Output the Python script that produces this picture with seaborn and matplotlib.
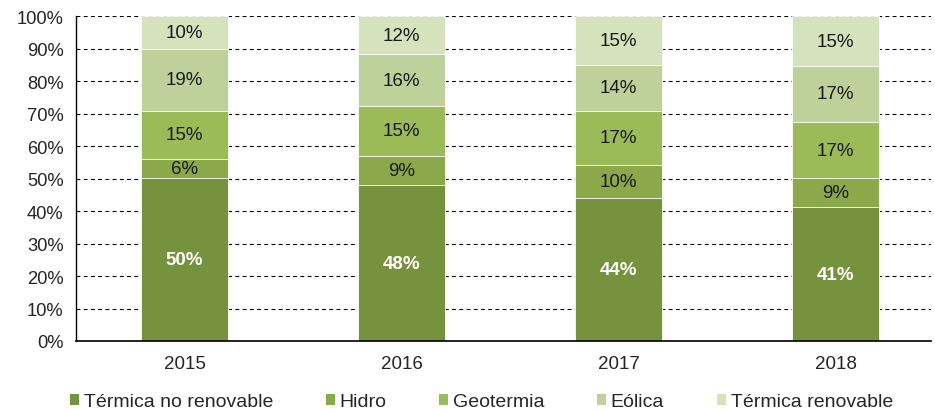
import numpy as np
import pandas as pd
import matplotlib
matplotlib.use("Agg")
import matplotlib.pyplot as plt
from matplotlib.patches import Patch
import seaborn as sns

# shares of each source per year (%)
years = ["2015", "2016", "2017", "2018"]
series_names = ["Térmica no renovable", "Hidro", "Geotermia", "Eólica", "Térmica renovable"]
termica_no_renovable = [50.1, 47.9, 44.0, 41.2]
hidro = [6.1, 9.2, 10.3, 8.9]
geotermia = [14.8, 15.2, 16.7, 17.3]
eolica = [19.0, 16.1, 14.1, 17.4]
termica_renovable = [10.0, 11.6, 14.9, 15.2]

colors = ["#76923C", "#8BA84B", "#9BBB59", "#BED19A", "#D5E2BC"]

df = pd.DataFrame({
    "year": years,
    "Térmica no renovable": termica_no_renovable,
    "Hidro": hidro,
    "Geotermia": geotermia,
    "Eólica": eolica,
    "Térmica renovable": termica_renovable,
})
cum = df[series_names].cumsum(axis=1)

sns.set_style("white")
plt.rcParams["font.family"] = ["Liberation Sans", "DejaVu Sans"]

fig = plt.figure(figsize=(9.35, 4.14), dpi=100)
ax = fig.add_axes([0.0813, 0.174, 0.9144, 0.784])

# draw cumulative totals from the top down so each layer sits on the one below
for name, col in reversed(list(zip(series_names, colors))):
    sns.barplot(x=df["year"], y=cum[name], color=col, width=0.4, ax=ax,
                saturation=1, edgecolor="white", linewidth=0.6, zorder=2)

# segment labels
for i in range(len(years)):
    bottom = 0
    for j, name in enumerate(series_names):
        v = df[name][i]
        mid = bottom + v / 2
        if j == 0:
            ax.text(i, mid, f"{round(v)}%", ha="center", va="center",
                    color="white", fontsize=13.5, fontweight="bold", zorder=3)
        else:
            ax.text(i, mid, f"{round(v)}%", ha="center", va="center",
                    color="#1a1a1a", fontsize=13.5, zorder=3)
        bottom += v

ax.set_ylim(0, 100)
ax.set_xlim(-0.5, 3.44)
ax.set_yticks(np.arange(0, 101, 10))
ax.set_yticklabels([f"{t}%" for t in range(0, 101, 10)], fontsize=13.2)
ax.tick_params(axis="x", labelsize=13.5, length=0, pad=10)
ax.tick_params(axis="y", length=5, width=0.8, color="black", direction="out", pad=4)
ax.set_xlabel("")
ax.set_ylabel("")
ax.yaxis.grid(True, color="black", linestyle=(0, (3.5, 3)), linewidth=0.8, zorder=0)
ax.set_axisbelow(True)

for side in ["top", "right"]:
    ax.spines[side].set_visible(False)
ax.spines["left"].set_color("black")
ax.spines["bottom"].set_color("black")
ax.spines["left"].set_linewidth(1.0)
ax.spines["bottom"].set_linewidth(1.2)

handles = [Patch(facecolor=c, edgecolor="none") for c in colors]
fig.legend(handles, series_names, loc="center", bbox_to_anchor=(0.515, 0.027),
           ncol=5, frameon=False, fontsize=14, handlelength=0.46, handleheight=0.46,
           handletextpad=0.25, columnspacing=2.7, borderpad=0.1)

fig.savefig("out.png", dpi=100)
